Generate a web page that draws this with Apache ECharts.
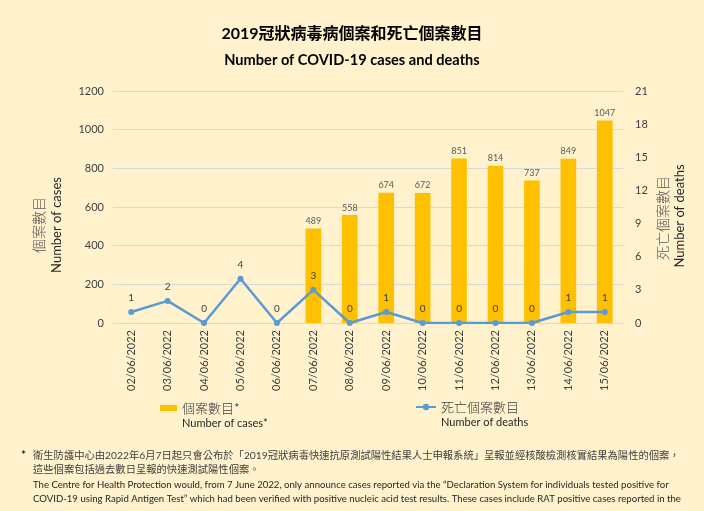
<!DOCTYPE html>
<html>
<head>
<meta charset="utf-8">
<script src="https://cdn.jsdelivr.net/npm/echarts@6/dist/echarts.min.js"></script>
<style>
html,body{margin:0;padding:0;background:#FFF2CC;}
#main{width:704px;height:511px;}
</style>
</head>
<body>
<div id="main"></div>
<script>
const categories = ['02/06/2022','03/06/2022','04/06/2022','05/06/2022','06/06/2022','07/06/2022','08/06/2022','09/06/2022','10/06/2022','11/06/2022','12/06/2022','13/06/2022','14/06/2022','15/06/2022'];
const cases = [0,0,0,0,0,489,558,674,672,851,814,737,849,1047];
const deaths = [1,2,0,4,0,3,0,1,0,0,0,0,1,1];
const casesTicks = {min:0, max:1200, interval:200};
const deathsTicks = {min:0, max:21, interval:3};

const FONT = "Lato, 'Noto Sans CJK TC', sans-serif";
const CJK = "'Noto Sans CJK TC', sans-serif";

const chart = echarts.init(document.getElementById('main'));
chart.setOption({
  backgroundColor: '#FFF2CC',
  animation: false,
  textStyle: {fontFamily: FONT},
  title: [
    {text: '2019冠狀病毒病個案和死亡個案數目', left: 'center', top: 21,
     textStyle: {fontFamily: FONT, fontSize: 16, fontWeight: 'bold', color: '#000'}},
    {text: 'Number of COVID-19 cases and deaths', left: 'center', top: 48,
     textStyle: {fontFamily: FONT, fontSize: 14.6, fontWeight: 'bold', color: '#000'}}
  ],
  grid: {left: 113, right: 81, top: 91, bottom: 188, containLabel: false},
  legend: [
    {data: ['個案數目*'], left: 155, top: 382, itemWidth: 17, itemHeight: 6, itemGap: 0,
     icon: 'rect',
     formatter: function(n){ return '{e| }\n{a|個案數目*}\n{b|Number of cases*}'; },
     textStyle: {rich: {
       e: {fontSize: 11, lineHeight: 15},
       a: {fontFamily: CJK, fontSize: 13, fontWeight: 300, color: '#404040', lineHeight: 16},
       b: {fontFamily: FONT, fontSize: 11, color: '#262626', lineHeight: 15}
     }}},
    {data: ['死亡個案數目'], left: 410, top: 381, itemWidth: 20, itemHeight: 8, itemGap: 0,
     formatter: function(n){ return '{e| }\n{a|死亡個案數目}\n{b|Number of deaths}'; },
     textStyle: {rich: {
       e: {fontSize: 11, lineHeight: 15},
       a: {fontFamily: CJK, fontSize: 13, fontWeight: 300, color: '#404040', lineHeight: 16},
       b: {fontFamily: FONT, fontSize: 11, color: '#262626', lineHeight: 15}
     }}}
  ],
  xAxis: {
    type: 'category', data: categories,
    axisLine: {show: true, lineStyle: {color: '#D9D9D9'}},
    axisTick: {show: false},
    axisLabel: {rotate: 90, fontSize: 11, color: '#404040', margin: 7, fontFamily: FONT, interval: 0}
  },
  yAxis: [
    {type: 'value', min: casesTicks.min, max: casesTicks.max, interval: casesTicks.interval,
     axisLine: {show: false}, axisTick: {show: false},
     axisLabel: {fontSize: 11, color: '#404040', margin: 9, fontFamily: FONT,
       formatter: function(v){ return String(v); }},
     splitLine: {lineStyle: {color: '#D9D9D9', width: 1}}},
    {type: 'value', min: deathsTicks.min, max: deathsTicks.max, interval: deathsTicks.interval,
     position: 'right',
     axisLine: {show: false}, axisTick: {show: false},
     axisLabel: {fontSize: 11, color: '#404040', margin: 12, fontFamily: FONT},
     splitLine: {show: false}}
  ],
  series: [
    {name: '個案數目*', type: 'bar', yAxisIndex: 0, data: cases, barWidth: '43%',
     itemStyle: {color: '#FFC000'},
     label: {show: true, position: 'top', fontSize: 9, color: '#595959', distance: 3, fontFamily: FONT,
       formatter: function(p){ return p.value ? String(p.value) : ''; }}},
    {name: '死亡個案數目', type: 'line', yAxisIndex: 1, data: deaths,
     symbol: 'circle', symbolSize: 6,
     itemStyle: {color: '#5B9BD5'},
     lineStyle: {color: '#5B9BD5', width: 2.5},
     label: {show: true, position: 'top', fontSize: 10, color: '#404040', distance: 6, fontFamily: FONT},
     z: 3}
  ],
  graphic: [
    {type: 'text', x: 39, y: 225, rotation: Math.PI/2,
     style: {text: '個案數目', fontFamily: CJK, fontSize: 14, fontWeight: 300, fill: '#595959', align: 'center', verticalAlign: 'middle'}},
    {type: 'text', x: 57, y: 225, rotation: Math.PI/2,
     style: {text: 'Number of cases', fontFamily: FONT, fontSize: 13, fill: '#262626', align: 'center', verticalAlign: 'middle'}},
    {type: 'text', x: 663, y: 218, rotation: Math.PI/2,
     style: {text: '死亡個案數目', fontFamily: CJK, fontSize: 14, fontWeight: 300, fill: '#595959', align: 'center', verticalAlign: 'middle'}},
    {type: 'text', x: 680, y: 216, rotation: Math.PI/2,
     style: {text: 'Number of deaths', fontFamily: FONT, fontSize: 13, fill: '#262626', align: 'center', verticalAlign: 'middle'}},
    {type: 'text', x: 21, y: 449,
     style: {text: '*', fontFamily: FONT, fontSize: 12, fontWeight: 'bold', fill: '#262626'}},
    {type: 'text', x: 33, y: 451,
     style: {text: '衛生防護中心由2022年6月7日起只會公布於「2019冠狀病毒快速抗原測試陽性結果人士申報系統」呈報並經核酸檢測核實結果為陽性的個案，', fontFamily: FONT, fontSize: 10.3, fill: '#404040'}},
    {type: 'text', x: 33, y: 465,
     style: {text: '這些個案包括過去數日呈報的快速測試陽性個案。', fontFamily: FONT, fontSize: 10.3, fill: '#404040'}},
    {type: 'text', x: 33, y: 480,
     style: {text: 'The Centre for Health Protection would, from 7 June 2022, only announce cases reported via the \u201cDeclaration System for individuals tested positive for', fontFamily: FONT, fontSize: 9.6, fill: '#262626'}},
    {type: 'text', x: 33, y: 494,
     style: {text: 'COVID-19 using Rapid Antigen Test\u201d which had been verified with positive nucleic acid test results. These cases include RAT positive cases reported in the', fontFamily: FONT, fontSize: 9.6, fill: '#262626'}}
  ]
});
</script>
</body>
</html>
